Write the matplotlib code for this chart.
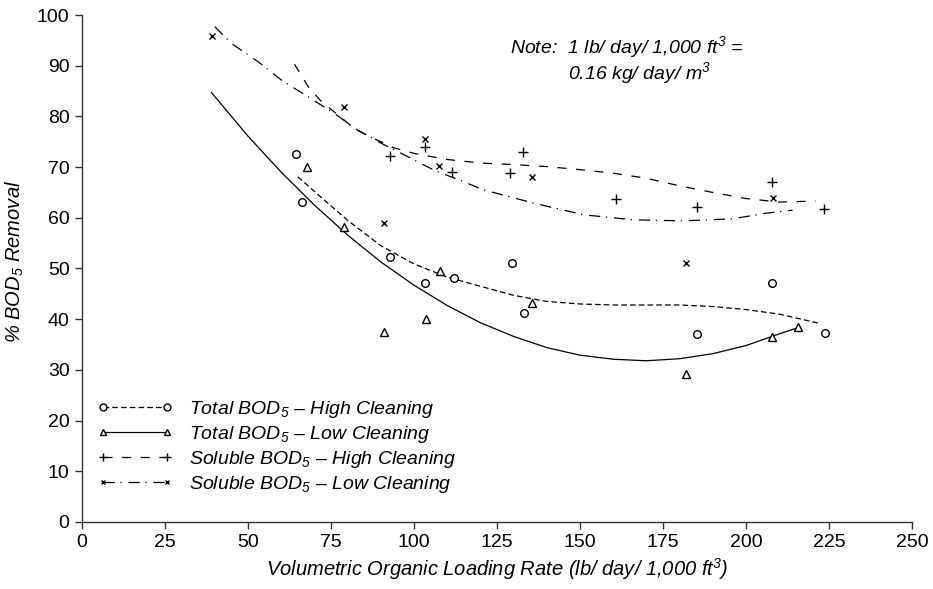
import matplotlib
matplotlib.use('Agg')
import matplotlib.pyplot as plt
from matplotlib.lines import Line2D

plt.rcParams['font.family'] = ['Liberation Sans', 'DejaVu Sans']
plt.rcParams['mathtext.fontset'] = 'custom'
plt.rcParams['mathtext.rm'] = 'Liberation Sans:italic'
plt.rcParams['mathtext.it'] = 'Liberation Sans:italic'
plt.rcParams['mathtext.default'] = 'it'

# scatter points
total_high_x = [64.4, 66.4, 92.8, 103.3, 112.0, 129.4, 133.2, 185.1, 207.9, 223.8]
total_high_y = [72.6, 63.1, 52.2, 47.2, 48.2, 51.1, 41.2, 37.1, 47.2, 37.2]

total_low_x = [67.7, 79.0, 91.0, 103.5, 107.8, 135.4, 181.9, 207.7, 215.8]
total_low_y = [70.1, 58.1, 37.4, 40.1, 49.5, 43.1, 29.2, 36.4, 38.4]

sol_high_x = [92.8, 103.3, 111.5, 128.9, 132.9, 160.8, 185.2, 207.7, 223.6]
sol_high_y = [72.1, 74.0, 69.0, 68.8, 73.0, 63.7, 62.1, 67.0, 61.7]

sol_low_x = [39.2, 79.0, 91.0, 103.3, 107.6, 135.6, 182.0, 208.0]
sol_low_y = [95.9, 81.9, 59.0, 75.5, 70.2, 68.1, 51.1, 64.0]

# trend curves
th_curve_x = [65, 70, 80, 90, 100, 110, 120, 130, 140, 150, 160, 170, 180, 190, 200, 210, 222]
th_curve_y = [68.1, 65.2, 59.5, 54.5, 50.9, 48.3, 46.5, 44.7, 43.5, 43.0, 42.8, 42.8, 42.8, 42.5, 41.9, 41.0, 39.2]

tl_curve_x = [39, 50, 60, 70, 80, 90, 100, 110, 120, 130, 140, 150, 160, 170, 180, 190, 200, 210, 216]
tl_curve_y = [84.7, 76.1, 69.0, 62.5, 56.6, 51.3, 46.7, 42.7, 39.3, 36.6, 34.4, 32.9, 32.1, 31.8, 32.2, 33.2, 34.8, 37.1, 38.4]

sh_curve_x = [64, 68, 72, 78, 82, 88, 94, 100, 110, 120, 130, 140, 150, 160, 170, 180, 190, 200, 210, 221]
sh_curve_y = [90.3, 86.0, 83.0, 79.8, 77.6, 75.6, 73.8, 72.7, 71.5, 70.8, 70.5, 70.1, 69.5, 68.8, 67.8, 66.3, 65.0, 63.8, 63.1, 63.3]

sl_curve_x = [40, 45, 53, 60, 68, 76, 83, 91, 98, 106, 115, 121, 136, 151, 166, 181, 196, 206, 214]
sl_curve_y = [97.7, 94.4, 90.8, 87.2, 83.9, 80.6, 77.3, 74.4, 72.1, 69.4, 67.1, 65.5, 62.9, 60.6, 59.6, 59.4, 59.8, 60.9, 61.5]

x_ticks = [0, 25, 50, 75, 100, 125, 150, 175, 200, 225, 250]
y_ticks = [0, 10, 20, 30, 40, 50, 60, 70, 80, 90, 100]

labels = ['Total BOD$_5$ \u2013 High Cleaning',
          'Total BOD$_5$ \u2013 Low Cleaning',
          'Soluble BOD$_5$ \u2013 High Cleaning',
          'Soluble BOD$_5$ \u2013 Low Cleaning']

style_th = (0, (4.5, 2.5))
style_tl = '-'
style_sh = (0, (7.2, 7.7))
style_sl = (0, (9, 4.5, 1, 5.5))

fig = plt.figure(figsize=(9.33, 5.89), dpi=100)
ax = fig.add_axes([0.0879, 0.1138, 0.8896, 0.8607])

lw = 0.9
ax.plot(th_curve_x, th_curve_y, color='black', lw=lw, linestyle=style_th)
ax.plot(tl_curve_x, tl_curve_y, color='black', lw=lw, linestyle=style_tl)
ax.plot(sh_curve_x, sh_curve_y, color='black', lw=lw, linestyle=style_sh)
ax.plot(sl_curve_x, sl_curve_y, color='black', lw=lw, linestyle=style_sl)

ax.plot(total_high_x, total_high_y, 'o', ms=5.5, mfc='white', mec='black', mew=1.0, ls='none')
ax.plot(total_low_x, total_low_y, '^', ms=6, mfc='white', mec='black', mew=1.0, ls='none')
ax.plot(sol_high_x, sol_high_y, '+', ms=6.5, mec='black', mew=1.0, ls='none')
ax.plot(sol_low_x, sol_low_y, 'x', ms=4, mec='black', mew=1.0, ls='none')

ax.set_xlim(0, 250)
ax.set_ylim(0, 100)
ax.set_xticks(x_ticks)
ax.set_yticks(y_ticks)
ax.tick_params(direction='out', length=5, width=1, labelsize=14, pad=4, color='#333333')
for side in ['top', 'right']:
    ax.spines[side].set_visible(False)
for side in ['left', 'bottom']:
    ax.spines[side].set_color('#333333')
    ax.spines[side].set_linewidth(1.0)

ax.set_xlabel('Volumetric Organic Loading Rate (lb/ day/ 1,000 ft$^3$)', fontsize=14.5, style='italic', labelpad=3)
ax.set_ylabel('% BOD$_5$ Removal', fontsize=14.5, style='italic')
ax.yaxis.set_label_coords(-0.067, 0.513)

ax.text(0.5157, 0.925, 'Note:  1 lb/ day/ 1,000 ft$^3$ =', transform=ax.transAxes,
        fontsize=14, style='italic', ha='left', va='baseline')
ax.text(0.5855, 0.874, '0.16 kg/ day/ m$^3$', transform=ax.transAxes,
        fontsize=14, style='italic', ha='left', va='baseline')

handles = [
    Line2D([], [], color='black', lw=lw, linestyle=style_th, marker='o', ms=5, mfc='white', mec='black'),
    Line2D([], [], color='black', lw=lw, linestyle=style_tl, marker='^', ms=5, mfc='white', mec='black'),
    Line2D([], [], color='black', lw=lw, linestyle=style_sh, marker='+', ms=6, mec='black'),
    Line2D([], [], color='black', lw=lw, linestyle=style_sl, marker='x', ms=3.5, mec='black'),
]
ax.legend(handles, labels, loc='upper left', bbox_to_anchor=(0.018, 0.2435), frameon=False,
          numpoints=2, handlelength=3.9, handletextpad=0.85, labelspacing=0.21,
          borderpad=0, borderaxespad=0,
          prop={'size': 14, 'style': 'italic', 'family': ['Liberation Sans', 'DejaVu Sans']})

fig.savefig('out.png', dpi=100)
